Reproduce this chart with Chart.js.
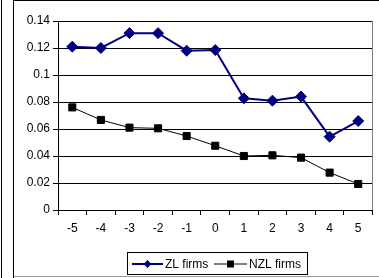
<!DOCTYPE html>
<html><head><meta charset="utf-8">
<script src="https://cdn.jsdelivr.net/npm/chart.js@4/dist/chart.umd.min.js"></script>
<style>html,body{margin:0;padding:0;background:#fff;}#w{position:relative;width:379px;height:278px;}canvas{display:block;}</style>
</head><body><div id="w"><canvas id="c" width="379" height="278"></canvas></div>
<script>
const categories = ['-5','-4','-3','-2','-1','0','1','2','3','4','5'];
const zlFirms  = [0.121, 0.120, 0.131, 0.131, 0.118, 0.1185, 0.0827, 0.081, 0.084, 0.0543, 0.0659];
const nzlFirms = [0.076, 0.0667, 0.061, 0.0605, 0.0548, 0.0476, 0.040, 0.0405, 0.0388, 0.0277, 0.0193];
const seriesNames = ['ZL firms', 'NZL firms'];
const yTicks = [0, 0.02, 0.04, 0.06, 0.08, 0.1, 0.12, 0.14];

const FONT = '"Liberation Sans", Arial, sans-serif';

const framePlugin = {
  id: 'frame',
  beforeDraw(chart) {
    const ctx = chart.ctx;
    ctx.save();
    ctx.fillStyle = '#fff';
    ctx.fillRect(0, 0, chart.width, chart.height);
    ctx.strokeStyle = '#000';
    ctx.lineWidth = 1;
    ctx.beginPath();
    ctx.moveTo(1.5, 0); ctx.lineTo(1.5, 278);
    ctx.moveTo(13.5, 0); ctx.lineTo(13.5, 278);
    ctx.moveTo(13, 0.5); ctx.lineTo(379, 0.5);
    ctx.stroke();
    ctx.strokeStyle = '#9a9a9a';
    ctx.beginPath();
    ctx.moveTo(14, 276.5); ctx.lineTo(379, 276.5);
    ctx.stroke();
    ctx.restore();
  },
  afterDraw(chart) {
    const ctx = chart.ctx;
    const a = chart.chartArea;
    ctx.save();
    ctx.strokeStyle = '#808080';
    ctx.lineWidth = 1;
    ctx.beginPath();
    ctx.moveTo(Math.round(a.right) - 0.5, a.top);
    ctx.lineTo(Math.round(a.right) - 0.5, a.bottom);
    ctx.stroke();
    // legend
    ctx.strokeStyle = '#000';
    ctx.strokeRect(127.5, 252.5, 180, 22);
    const ds = chart.data.datasets;
    const items = [
      {x0: 132, x1: 163, tx: 165},
      {x0: 214, x1: 247, tx: 249}
    ];
    const cy = 264;
    ctx.font = '12px ' + FONT;
    ctx.textBaseline = 'middle';
    items.forEach((it, i) => {
      const d = ds[i];
      ctx.strokeStyle = d.borderColor;
      ctx.lineWidth = i === 0 ? 2 : 1;
      ctx.beginPath();
      ctx.moveTo(it.x0, cy); ctx.lineTo(it.x1, cy);
      ctx.stroke();
      const mx = (it.x0 + it.x1) / 2;
      ctx.fillStyle = d.backgroundColor;
      ctx.beginPath();
      if (i === 0) {
        ctx.moveTo(mx - 4, cy); ctx.lineTo(mx, cy - 4); ctx.lineTo(mx + 4, cy); ctx.lineTo(mx, cy + 4);
        ctx.closePath(); ctx.fill();
      } else {
        ctx.fillRect(mx - 3.5, cy - 3.5, 7, 7);
      }
      ctx.fillStyle = '#000';
      ctx.textAlign = 'left';
      ctx.fillText(d.label, it.tx, cy + 0.5);
    });
    ctx.restore();
  }
};

new Chart(document.getElementById('c'), {
  type: 'line',
  data: {
    labels: categories,
    datasets: [
      { label: seriesNames[0], data: zlFirms, borderColor: '#000080', backgroundColor: '#000080',
        borderWidth: 2, pointStyle: 'rectRot', pointRadius: 5.5, pointBorderWidth: 1, tension: 0 },
      { label: seriesNames[1], data: nzlFirms, borderColor: '#000000', backgroundColor: '#000000',
        borderWidth: 1, pointStyle: 'rect', pointRadius: 5, pointBorderWidth: 1, tension: 0 }
    ]
  },
  options: {
    responsive: false,
    animation: false,
    events: [],
    layout: { padding: { left: 0, top: 21, right: 4, bottom: 43 } },
    plugins: { legend: { display: false }, tooltip: { enabled: false } },
    scales: {
      x: {
        type: 'category',
        offset: true,
        grid: { offset: true, drawOnChartArea: false, drawTicks: true, tickLength: 5, color: '#000' },
        border: { display: true, color: '#000', width: 1 },
        ticks: { color: '#000', font: { family: FONT, size: 12 }, padding: 6, maxRotation: 0, autoSkip: false },
        afterFit(s) { s.height = 25; }
      },
      y: {
        min: 0, max: 0.14,
        afterBuildTicks(s) { s.ticks = yTicks.map(v => ({ value: v })); },
        grid: { color: '#000', drawTicks: true, tickLength: 5 },
        border: { display: true, color: '#000', width: 1 },
        ticks: { color: '#000', font: { family: FONT, size: 12 }, padding: 3,
                 callback: v => String(+(+v).toFixed(2)) },
        afterFit(s) { s.width = 58; }
      }
    }
  },
  plugins: [framePlugin]
});
</script></body></html>
